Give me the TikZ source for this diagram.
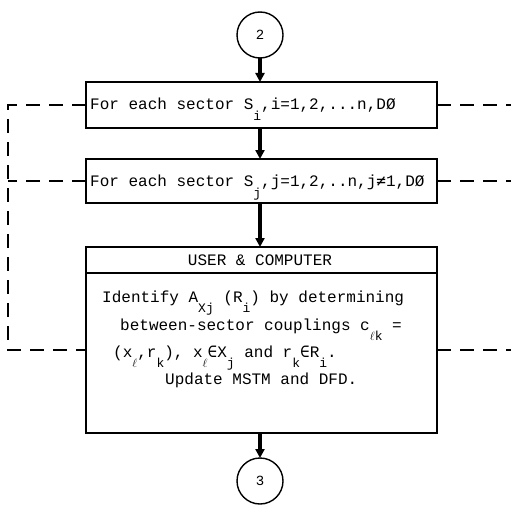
\documentclass[tikz,border=0pt]{standalone}
\usepackage{fontspec}
\setmonofont{Liberation Mono}
\newfontfamily\symfont{DejaVu Sans Mono}
\usetikzlibrary{arrows.meta}
\newcommand\lo[2][10pt]{\raisebox{-#1}{\fontsize{13}{13}\selectfont #2}}
\newcommand\ellsym{\ensuremath{\ell}}
\begin{document}
\begin{tikzpicture}[x=1pt,y=-1pt,
  box/.style={draw,line width=1.5pt,inner sep=0pt,outer sep=0pt},
  conn/.style={draw,circle,line width=1.4pt,minimum size=46pt,inner sep=0pt,outer sep=0pt,
    font=\ttfamily\fontsize{14}{14}\selectfont},
  txt/.style={inner sep=0pt,anchor=base west,font=\ttfamily\fontsize{16}{19}\selectfont},
  flow/.style={line width=3.2pt,-{Triangle[width=9pt,length=9pt]}},
  loopline/.style={line width=1.1pt,dash pattern=on 14pt off 9pt}]
\useasboundingbox (0,0) rectangle (511,508);
\fill[white] (0,0) rectangle (511,508);

% connectors (circles)
\node[conn] (c2) at (260,35) {2};
\node[conn] (c3) at (260,481) {3};

% boxes
\node[box,minimum width=351pt,minimum height=46pt] (b1) at (261.5,105) {};
\node[box,minimum width=351pt,minimum height=44pt] (b2) at (261.5,181) {};
\node[box,minimum width=351pt,minimum height=186pt] (b3) at (261.5,340) {};
\draw[line width=1.3pt] ([yshift=-26pt]b3.north west) -- ([yshift=-26pt]b3.north east);

% texts
\node[txt] (t1) at (90,110) {For each sector S\lo[11pt]{i},i=1,2,...n,DØ};
\node[txt] (t2) at (90,186) {For each sector S\lo[11pt]{j},j=1,2,..n,j{\symfont ≠}1,DØ};
\node[txt,anchor=base] (hd) at (260,265) {USER \& COMPUTER};
\node[txt] (l1) at (102,302) {Identify A\lo{Xj} (R\lo{i}) by determining};
\node[txt] (l2) at (120,330) {between-sector couplings c\lo{\ellsym k} =};
\node[txt] (l3) at (113,357) {(x\lo{\ellsym},r\lo{k}), x\lo{\ellsym}{\symfont ∈}X\lo{j} and r\lo{k}{\symfont ∈}R\lo{i}.};
\node[txt] (l4) at (165,384) {Update MSTM and DFD.};

% flow arrows
\draw[flow] (c2.south) -- (c2.south |- b1.north);
\draw[flow] (c2.south |- b1.south) -- (c2.south |- b2.north);
\draw[flow] (c2.south |- b2.south) -- (c2.south |- b3.north);
\draw[flow] (c3.north |- b3.south) -- (c3.north);

% dashed loop lines
\coordinate (L1) at (8,105);
\coordinate (L3) at (8,350);
\coordinate (R1) at (511,105);
\coordinate (R2) at (511,181);
\coordinate (R3) at (511,350);
\draw[loopline] (b1.west) -- (L1) -- (L3) -- (b3.west |- L3);
\draw[loopline] (b2.west) -- (L1 |- b2.west);
\draw[loopline] (b1.east) -- (R1);
\draw[loopline] (b2.east) -- (R2);
\draw[loopline] (b3.east |- R3) -- (R3);
\end{tikzpicture}
\end{document}
